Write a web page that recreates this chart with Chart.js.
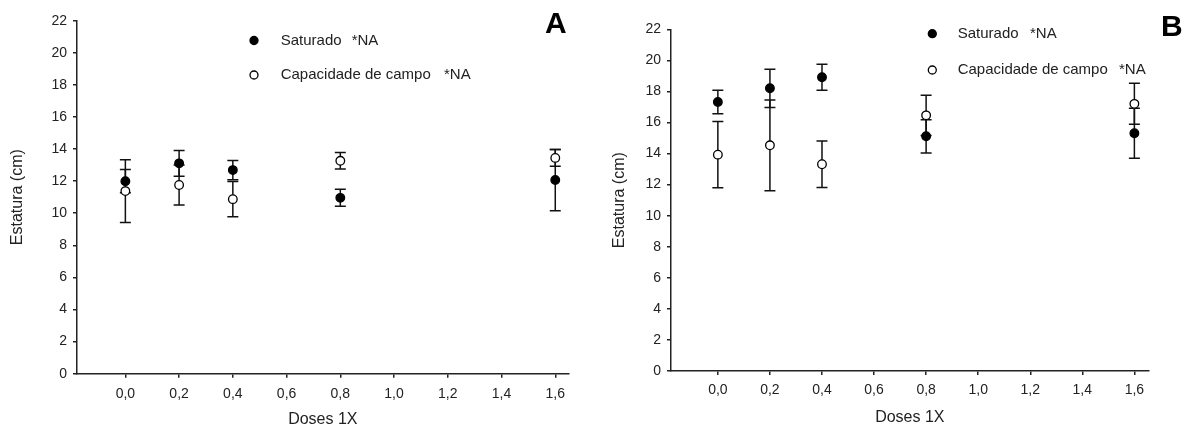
<!DOCTYPE html>
<html>
<head>
<meta charset="utf-8">
<script src="https://cdn.jsdelivr.net/npm/chart.js@4.4.1/dist/chart.umd.min.js"></script>
<style>
  body { margin: 0; background: #fff; width: 1190px; height: 430px; overflow: hidden; position: relative;
         font-family: "Liberation Sans", Arial, sans-serif; }
  .panel { position: absolute; top: 0; width: 595px; height: 430px; }
  .tag { position: absolute; font-weight: bold; font-size: 30px; line-height: 30px; color: #000; }
</style>
</head>
<body>
<div class="panel" style="left:0"><canvas id="chartA" width="595" height="430"></canvas></div>
<div class="panel" style="left:595px"><canvas id="chartB" width="595" height="430"></canvas></div>
<div class="tag" style="left:545px;top:8px">A</div>
<div class="tag" style="left:1161px;top:11px">B</div>
<script>
// doses on the x axis
const doses = [0, 0.2, 0.4, 0.8, 1.6];
const xTicks = [0, 0.2, 0.4, 0.6, 0.8, 1.0, 1.2, 1.4, 1.6];
const seriesNames = ["Saturado", "Capacidade de campo"];
const seriesNote = "*NA";

// panel A
const satA = [12.0, 13.11, 12.69, 10.96, 12.07];
const satAErr = [0.73, 0.8, 0.6, 0.53, 1.91];
const capA = [11.38, 11.76, 10.88, 13.27, 13.45];
const capAErr = [1.95, 1.25, 1.1, 0.52, 0.52];

// panel B
const satB = [17.32, 18.2, 18.91, 15.11, 15.31];
const satBErr = [0.75, 1.23, 0.84, 1.07, 1.61];
const capB = [13.93, 14.53, 13.31, 16.46, 17.2];
const capBErr = [2.13, 2.92, 1.5, 1.29, 1.32];

Chart.defaults.font.family = '"Liberation Sans", Arial, sans-serif';
Chart.defaults.color = "#222";

// vertical error bars with caps, drawn under the points
const errorBars = {
  id: "errorBars",
  beforeDatasetsDraw(chart) {
    const { ctx, scales: { x, y } } = chart;
    ctx.save();
    ctx.strokeStyle = "#111";
    ctx.lineWidth = 1.5;
    chart.data.datasets.forEach(ds => {
      ds.data.forEach((p, i) => {
        const e = ds.errors[i];
        const px = x.getPixelForValue(p.x);
        const top = y.getPixelForValue(p.y + e);
        const bot = y.getPixelForValue(p.y - e);
        ctx.beginPath();
        ctx.moveTo(px, top); ctx.lineTo(px, bot);
        ctx.moveTo(px - 5.5, top); ctx.lineTo(px + 5.5, top);
        ctx.moveTo(px - 5.5, bot); ctx.lineTo(px + 5.5, bot);
        ctx.stroke();
      });
    });
    ctx.restore();
  }
};

// legend sitting inside the plot
const insetLegend = {
  id: "insetLegend",
  afterDraw(chart, args, opts) {
    const ctx = chart.ctx;
    ctx.save();
    ctx.font = '15px "Liberation Sans", Arial, sans-serif';
    ctx.textBaseline = "middle";
    chart.data.datasets.forEach((ds, i) => {
      const yy = opts.y[i];
      ctx.beginPath();
      ctx.arc(opts.x, yy, 4, 0, Math.PI * 2);
      ctx.fillStyle = ds.pointBackgroundColor;
      ctx.fill();
      ctx.lineWidth = 1.3;
      ctx.strokeStyle = ds.pointBorderColor;
      ctx.stroke();
      ctx.fillStyle = "#222";
      ctx.fillText(ds.label, opts.textX, yy);
      ctx.fillText(ds.note, opts.noteX[i], yy);
    });
    ctx.restore();
  }
};

const makeSet = (name, vals, errs, fill) => ({
  label: name,
  note: seriesNote,
  data: doses.map((d, i) => ({ x: d, y: vals[i] })),
  errors: errs,
  pointRadius: 4.3,
  pointBorderWidth: 1.3,
  pointBackgroundColor: fill,
  pointBorderColor: "#000"
});

const buildChart = (id, sat, satErr, cap, capErr, g) => {
  return new Chart(document.getElementById(id), {
    type: "scatter",
    data: {
      datasets: [
        makeSet(seriesNames[0], sat, satErr, "#000"),
        makeSet(seriesNames[1], cap, capErr, "#fff")
      ]
    },
    options: {
      responsive: false,
      animation: false,
      layout: { padding: { top: g.top, right: g.right, left: 0, bottom: 0 } },
      plugins: {
        legend: { display: false },
        tooltip: { enabled: false },
        insetLegend: g.legend
      },
      scales: {
        x: {
          type: "linear",
          min: -0.18,
          max: g.xMax,
          afterBuildTicks: s => { s.ticks = xTicks.map(v => ({ value: v })); },
          afterFit: s => { s.height = g.xAxisH; },
          ticks: {
            padding: g.xTickPad,
            autoSkip: false,
            maxRotation: 0,
            font: { size: 14 },
            color: "#222",
            callback: v => v.toFixed(1).replace(".", ",")
          },
          grid: { drawOnChartArea: false, drawTicks: true, tickLength: 4, color: "#222", lineWidth: 1.5 },
          border: { display: true, color: "#222", width: 1.5 },
          title: { display: true, text: "Doses 1X", font: { size: 16 }, color: "#222",
                   padding: { top: 0, bottom: g.xTitlePad } }
        },
        y: {
          min: 0,
          max: 22,
          afterFit: s => { s.width = g.yAxisW; },
          ticks: { stepSize: 2, padding: 6, font: { size: 14 }, color: "#222" },
          grid: { drawOnChartArea: false, drawTicks: true, tickLength: 4, color: "#222", lineWidth: 1.5 },
          border: { display: true, color: "#222", width: 1.5 },
          title: { display: true, text: "Estatura (cm)", font: { size: 16 }, color: "#222",
                   padding: { top: g.yTitlePad, bottom: 0 } }
        }
      }
    },
    plugins: [errorBars, insetLegend]
  });
};

buildChart("chartA", satA, satAErr, capA, capAErr, {
  top: 20.7, right: 26.3, xMax: 1.65,
  xAxisH: 56.3, xTickPad: 8, xTitlePad: 0.4,
  yAxisW: 77, yTitlePad: 8.4,
  legend: { x: 254, textX: 280.7, y: [40.5, 75], noteX: [351.7, 444] }
});

buildChart("chartB", satB, satBErr, capB, capBErr, {
  top: 29.3, right: 41.3, xMax: 1.655,
  xAxisH: 59, xTickPad: 7, xTitlePad: 2.4,
  yAxisW: 76, yTitlePad: 15.4,
  legend: { x: 337.3, textX: 362.7, y: [33.7, 70], noteX: [435, 524] }
});
</script>
</body>
</html>
